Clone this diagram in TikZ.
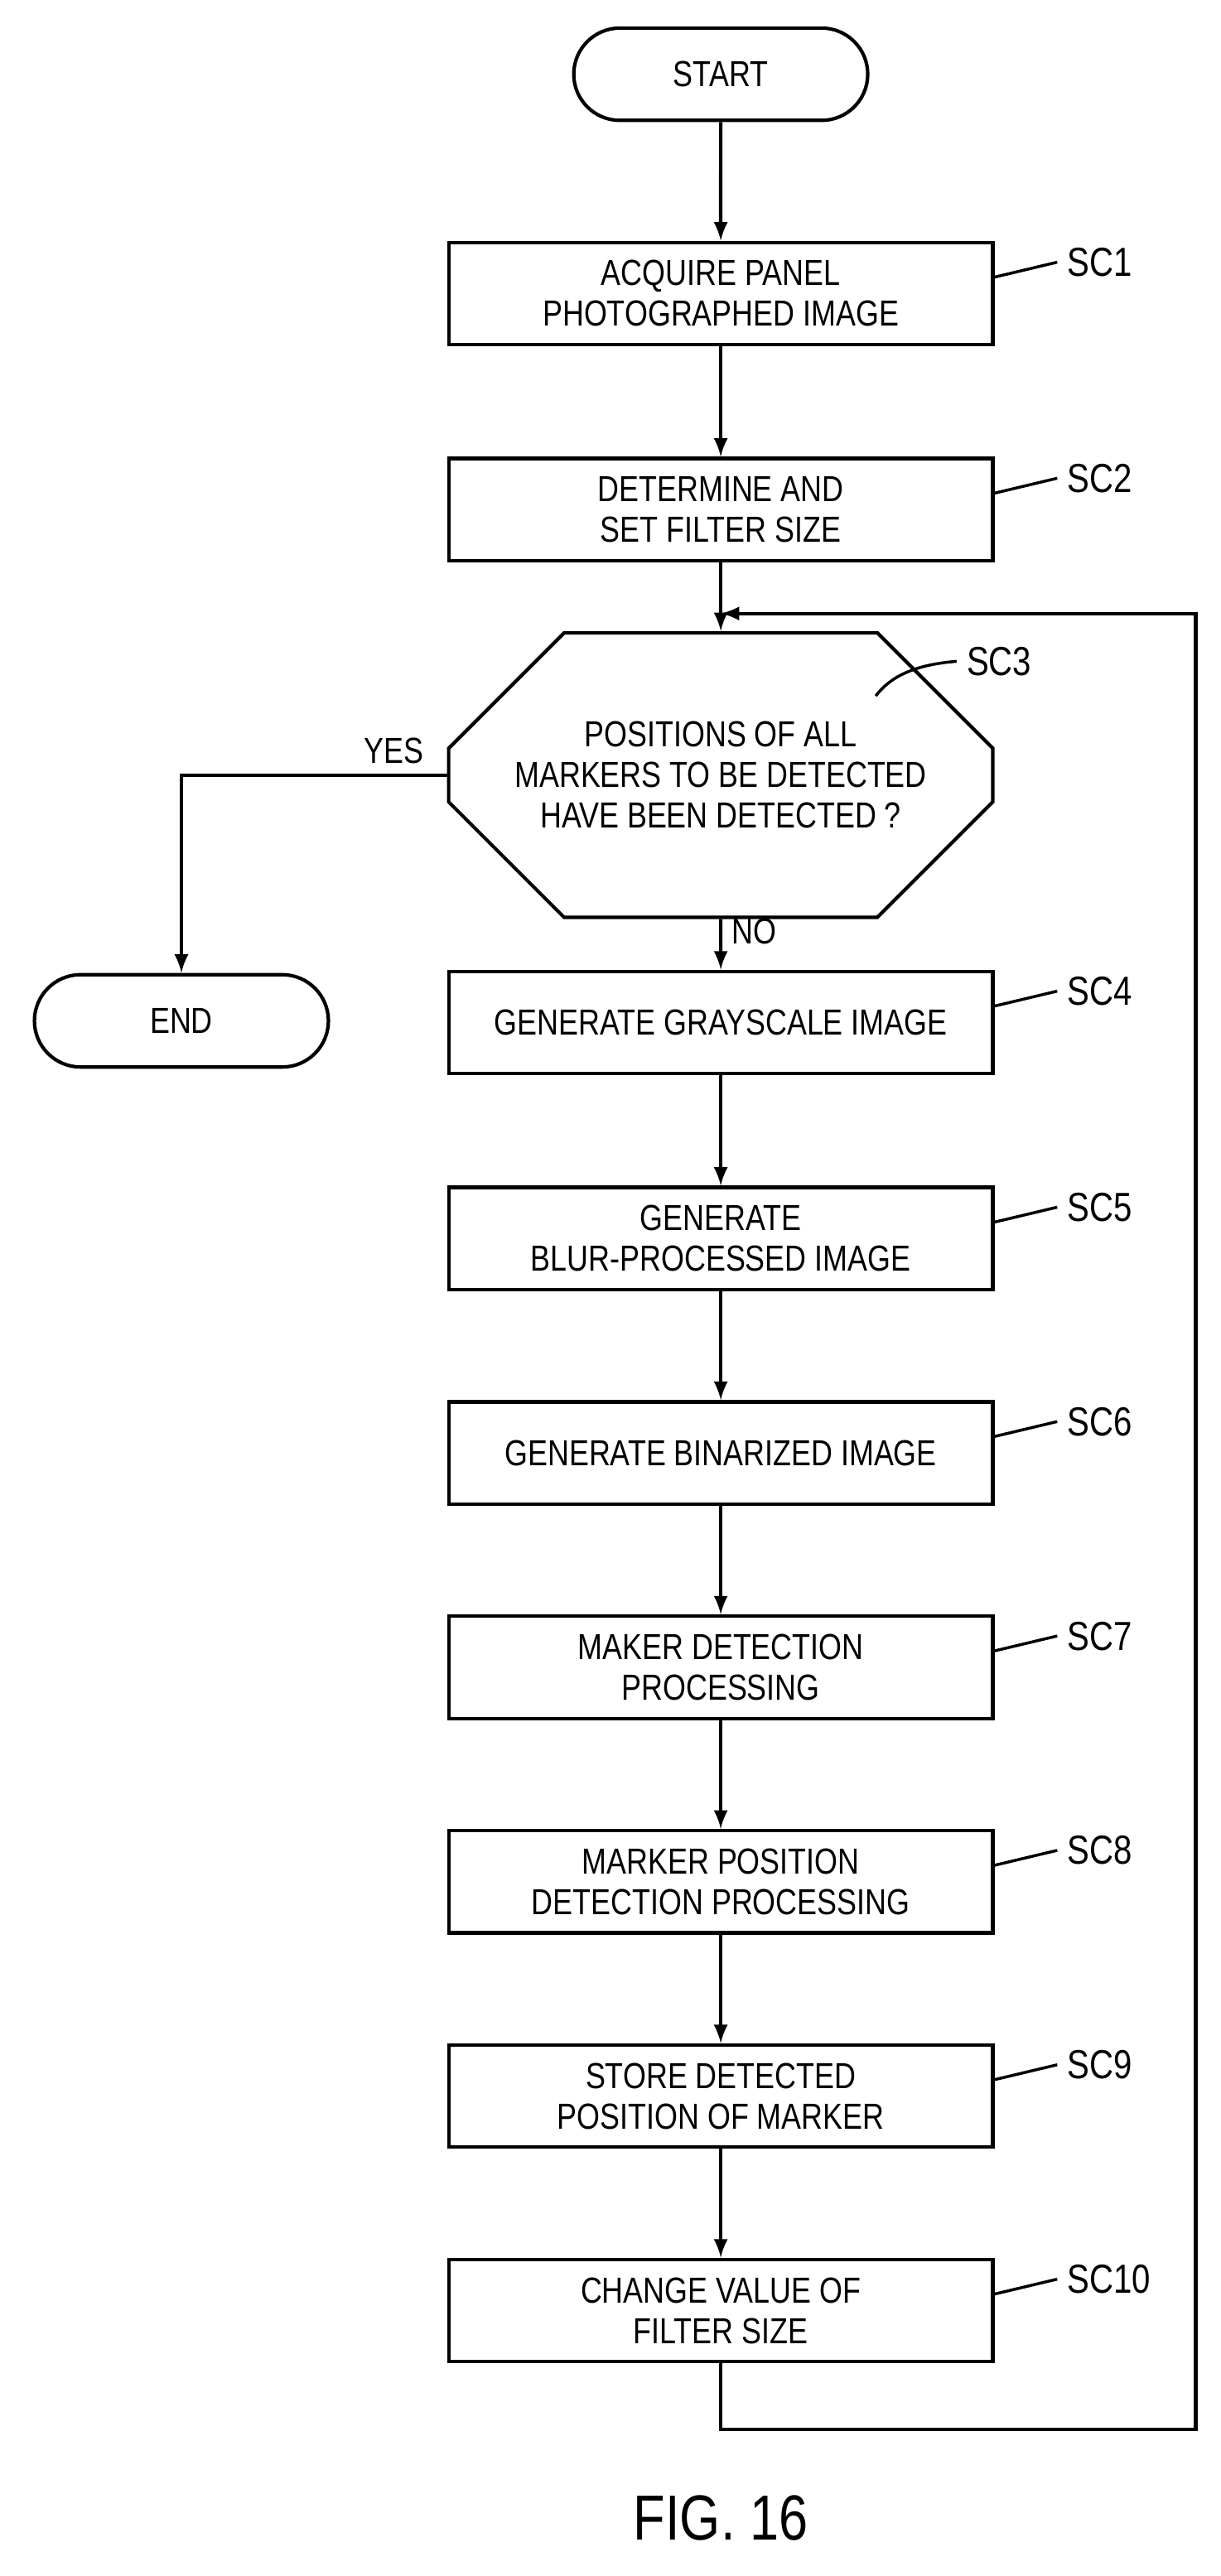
\documentclass[tikz,border=0pt]{standalone}
\usepackage{fontspec}
\setmainfont[FakeStretch=0.82]{Liberation Sans}
\usetikzlibrary{shapes.misc, arrows, positioning}
\tikzstyle{procbox} = [rectangle, draw=black, line width=1.2pt, minimum width=6.6cm, minimum height=1.24cm, text centered, align=center, font=\fontsize{12.5}{14}\selectfont]
\tikzstyle{term} = [rounded rectangle, draw=black, line width=1.2pt, minimum width=3.8cm, minimum height=1.12cm, font=\fontsize{12.5}{14}\selectfont]
\tikzstyle{tag} = [font=\fontsize{14}{16}\selectfont, anchor=west]
\tikzstyle{arrow} = [line width=1.2pt,->,>=latex]
\tikzstyle{lead} = [line width=1pt]

\begin{document}
\begin{tikzpicture}[x=0.02cm, y=-0.02cm]
        \useasboundingbox (0,0) rectangle (740,1562);
        \node[term] (start) at (437,45) {START};
        \node[procbox] (sc1) at (437,178) {ACQUIRE PANEL\\PHOTOGRAPHED IMAGE};
        \node[procbox] (sc2) at (437,309) {DETERMINE AND\\SET FILTER SIZE};
        \node[chamfered rectangle, chamfered rectangle xsep=0.44cm, chamfered rectangle ysep=0.96cm, draw=black, line width=1.2pt, minimum width=6.6cm, minimum height=1.92cm, inner xsep=0pt, align=center, font=\fontsize{12.5}{14}\selectfont] (sc3) at (437,470) {POSITIONS OF ALL\\MARKERS TO BE DETECTED\\HAVE BEEN DETECTED ?};
        \node[term] (end) at (110,619) {END};
        \node[procbox] (sc4) at (437,620) {GENERATE GRAYSCALE IMAGE};
        \node[procbox] (sc5) at (437,751) {GENERATE\\BLUR-PROCESSED IMAGE};
        \node[procbox] (sc6) at (437,881) {GENERATE BINARIZED IMAGE};
        \node[procbox] (sc7) at (437,1011) {MAKER DETECTION\\PROCESSING};
        \node[procbox] (sc8) at (437,1141) {MARKER POSITION\\DETECTION PROCESSING};
        \node[procbox] (sc9) at (437,1271) {STORE DETECTED\\POSITION OF MARKER};
        \node[procbox] (sc10) at (437,1401) {CHANGE VALUE OF\\FILTER SIZE};
        \node[font=\fontsize{22}{26}\selectfont] (fig) at (437,1527) {FIG. 16};

        % step labels
        \foreach \n/\t in {sc1/SC1, sc2/SC2, sc4/SC4, sc5/SC5, sc6/SC6, sc7/SC7, sc8/SC8, sc9/SC9, sc10/SC10} {
            \node[tag] (\n tag) at ([xshift=0.76cm, yshift=0.38cm]\n.east) {\t};
            \draw[lead] ([yshift=0.2cm]\n.east) .. controls ++(0.3,0) and ++(-0.3,0) .. (\n tag.west);
        }
        \node[tag] (sc3tag) at (580,401) {SC3};
        \draw[lead] (531,422) .. controls (540,410) and (555,403) .. (sc3tag.west);

        \coordinate (loopin) at (437,372);
        \coordinate (loopbr) at (725,1473);
        \coordinate (looptr) at (725,372);
        \coordinate (loopbl) at (437,1473);

        \draw[arrow] (start) -- (sc1);
        \draw[arrow] (sc1) -- (sc2);
        \draw[line width=1.2pt] (sc2) -- (loopin);
        \draw[arrow] (loopin) -- (sc3);
        \draw[arrow] (sc3.west) -| (end.north) node[pos=0.1, above, font=\fontsize{12.5}{14}\selectfont] {YES};
        \draw[arrow] (sc3) -- (sc4) node[pos=0.25, right, font=\fontsize{12.5}{14}\selectfont] {NO};
        \draw[arrow] (sc4) -- (sc5);
        \draw[arrow] (sc5) -- (sc6);
        \draw[arrow] (sc6) -- (sc7);
        \draw[arrow] (sc7) -- (sc8);
        \draw[arrow] (sc8) -- (sc9);
        \draw[arrow] (sc9) -- (sc10);
        \draw[arrow] (sc10) -- (loopbl) -- (loopbr) -- (looptr) -- (loopin);
    \end{tikzpicture}
\end{document}
